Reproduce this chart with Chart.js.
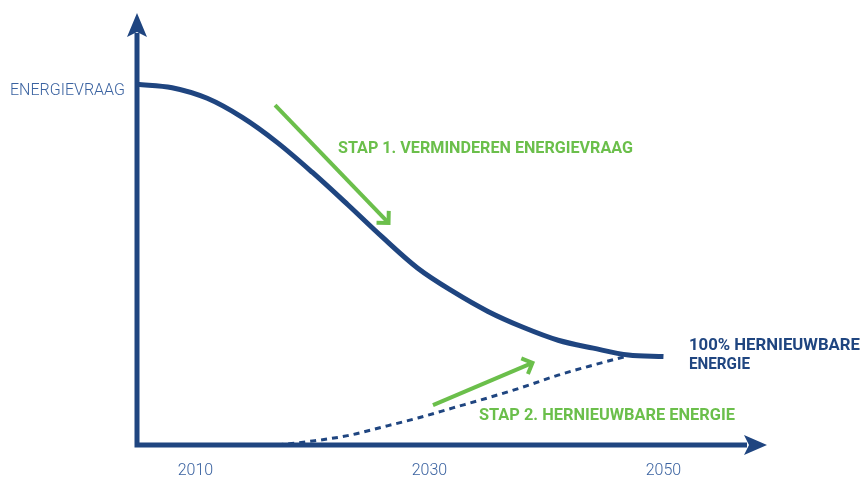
<!DOCTYPE html>
<html>
<head>
<meta charset="utf-8">
<script src="https://cdn.jsdelivr.net/npm/chart.js@4"></script>
<style>
  html,body{margin:0;padding:0;background:#fff}
  #wrap{width:862px;height:477px;position:relative}
</style>
</head>
<body>
<div id="wrap"><canvas id="c"></canvas></div>
<script>
// energievraag (solid) en hernieuwbare energie (dashed)
const DEMAND_YEARS = [2005, 2008, 2011, 2014, 2017, 2020, 2023, 2026, 2029, 2032, 2035, 2038, 2041, 2044, 2047, 2050];
const DEMAND = [100.2, 99.25, 96.3, 91.0, 84.0, 75.7, 66.8, 57.65, 49.1, 42.65, 37.1, 32.7, 29.1, 26.9, 25.0, 24.6];
const RENEW_YEARS = [2017, 2020, 2023, 2026, 2029, 2032, 2035, 2038, 2041, 2044, 2047];
const RENEW = [0, 1.1, 2.6, 5.0, 7.5, 10.3, 13.1, 16.1, 19.4, 22.2, 24.8];
const X_TICKS = [2010, 2030, 2050];

const BLUE = '#1f4580';
const LBLUE = '#3a62a0';
const GREEN = '#6bbf4b';

// annotations in data units (year, value)
const NOTES = [
  {text:'ENERGIEVRAAG',                     x:2003.97, y:97.2, w:115, size:17, weight:'300', color:LBLUE, align:'right'},
  {text:'STAP 1. VERMINDEREN ENERGIEVRAAG', x:2022.18, y:81.1, w:295, size:16, weight:'bold', color:GREEN},
  {text:'STAP 2. HERNIEUWBARE ENERGIE',     x:2034.23, y:6.94, w:256, size:16, weight:'bold', color:GREEN},
  {text:'100% HERNIEUWBARE',                x:2052.18, y:26.4, w:171, size:16, weight:'bold', color:BLUE},
  {text:'ENERGIE',                          x:2052.18, y:21.1, w:61,  size:16, weight:'bold', color:BLUE},
];
const STEPS = [
  {from:[2016.8, 94.4], to:[2026.5, 61.7]},
  {from:[2030.3, 11.1], to:[2038.8, 22.8]},
];

function filledHead(ctx, tx, ty, ang, len, half, notch){
  const c = Math.cos(ang), s = Math.sin(ang);
  const bx = tx - c*len, by = ty - s*len;
  ctx.beginPath();
  ctx.moveTo(tx, ty);
  ctx.lineTo(bx - s*half, by + c*half);
  ctx.lineTo(tx - c*(len-notch), ty - s*(len-notch));
  ctx.lineTo(bx + s*half, by - c*half);
  ctx.closePath();
  ctx.fill();
}

const deco = {
  id:'deco',
  afterDatasetsDraw(chart){
    const {ctx, chartArea:a, scales:{x, y}} = chart;
    ctx.save();
    // axes
    ctx.strokeStyle = BLUE; ctx.fillStyle = BLUE; ctx.lineWidth = 5; ctx.lineCap = 'butt';
    ctx.beginPath();
    ctx.moveTo(a.left, a.bottom + 2.5); ctx.lineTo(a.left, a.top + 20);
    ctx.moveTo(a.left - 2.5, a.bottom); ctx.lineTo(a.right - 20, a.bottom);
    ctx.stroke();
    filledHead(ctx, a.left, a.top, -Math.PI/2, 24, 10, 5);
    filledHead(ctx, a.right, a.bottom, 0, 23, 10, 5);

    // green step arrows
    ctx.strokeStyle = GREEN; ctx.lineWidth = 4;
    STEPS.forEach(st => {
      const x0 = x.getPixelForValue(st.from[0]), y0 = y.getPixelForValue(st.from[1]);
      const x1 = x.getPixelForValue(st.to[0]), y1 = y.getPixelForValue(st.to[1]);
      const ang = Math.atan2(y1 - y0, x1 - x0);
      ctx.beginPath(); ctx.moveTo(x0, y0); ctx.lineTo(x1, y1); ctx.stroke();
      ctx.beginPath();
      ctx.moveTo(x1 - 12*Math.cos(ang - Math.PI/4), y1 - 12*Math.sin(ang - Math.PI/4));
      ctx.lineTo(x1, y1);
      ctx.lineTo(x1 - 12*Math.cos(ang + Math.PI/4), y1 - 12*Math.sin(ang + Math.PI/4));
      ctx.stroke();
    });

    // labels, stretched to the width seen in the reference
    NOTES.forEach(n => {
      ctx.font = `${n.weight} ${n.size}px Roboto, "Noto Sans", sans-serif`;
      ctx.fillStyle = n.color;
      ctx.textBaseline = 'alphabetic';
      const px = x.getPixelForValue(n.x), py = y.getPixelForValue(n.y);
      const k = n.w / ctx.measureText(n.text).width;
      ctx.save();
      ctx.translate(n.align === 'right' ? px - n.w : px, py);
      ctx.scale(k, 1);
      ctx.textAlign = 'left';
      ctx.fillText(n.text, 0, 0);
      ctx.restore();
    });
    ctx.restore();
  }
};

new Chart(document.getElementById('c'), {
  type:'line',
  data:{datasets:[
    {data:DEMAND_YEARS.map((t,i)=>({x:t, y:DEMAND[i]})), borderColor:BLUE, borderWidth:5,
     pointRadius:0, cubicInterpolationMode:'monotone', fill:false},
    {data:RENEW_YEARS.map((t,i)=>({x:t, y:RENEW[i]})), borderColor:BLUE, borderWidth:3, borderDash:[6,5],
     pointRadius:0, cubicInterpolationMode:'monotone', fill:false},
  ]},
  options:{
    responsive:true, maintainAspectRatio:false, animation:false,
    layout:{padding:{left:137, right:95, top:13, bottom:0}},
    plugins:{legend:{display:false}, tooltip:{enabled:false}},
    scales:{
      x:{type:'linear', min:2005, max:2058.85,
        afterBuildTicks:s=>{ s.ticks = X_TICKS.map(v=>({value:v})); },
        afterFit:s=>{ s.height = 32; },
        grid:{display:false, drawTicks:false}, border:{display:false},
        ticks:{padding:18, color:LBLUE, maxRotation:0, font:{family:'Roboto', size:16, weight:'300', lineHeight:1}, callback:v=>String(v)}},
      y:{display:false, min:0, max:120}
    }
  },
  plugins:[deco]
});
</script>
</body>
</html>
